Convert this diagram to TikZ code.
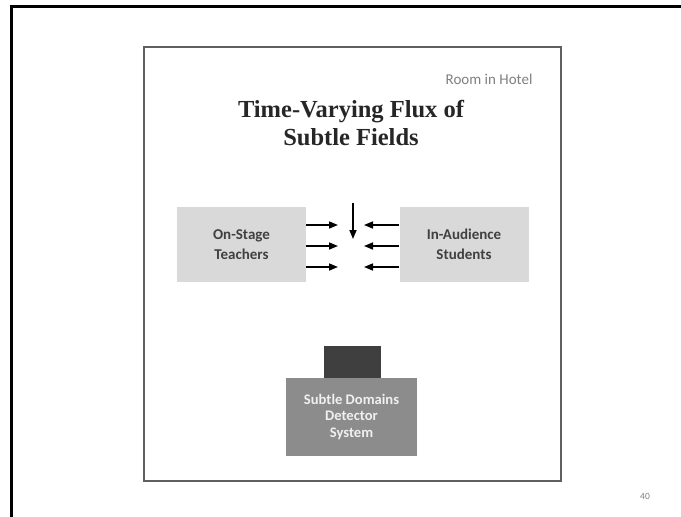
\documentclass[tikz,border=0pt]{standalone}
\usepackage{fontspec}
\setmainfont{Liberation Serif}
\newfontfamily\calib{Carlito}
\usetikzlibrary{arrows.meta}
\definecolor{boxgray}{HTML}{D9D9D9}
\definecolor{detgray}{HTML}{8C8C8C}
\definecolor{capgray}{HTML}{3F3F3F}
\definecolor{labelgray}{HTML}{404040}
\tikzset{
  px/.style={x=1pt,y=-1pt},
  panel/.style={draw=gray!75!black,line width=1.8pt,fill=white},
  graybox/.style={fill=boxgray,draw=none,minimum width=129pt,minimum height=75pt,
    font=\calib\bfseries\fontsize{15}{20}\selectfont,text=labelgray,align=center},
  flux/.style={line width=1.6pt,-{Triangle[length=9pt,width=7pt]}},
  detbox/.style={fill=detgray,draw=none,minimum width=131pt,minimum height=78pt,
    font=\calib\bfseries\fontsize{14.6}{16.5}\selectfont,text=white!94!black,align=center},
  capbox/.style={fill=capgray,draw=none,minimum width=57pt,minimum height=32pt},
}
\begin{document}
\begin{tikzpicture}[px]
\useasboundingbox (0,0) rectangle (681,517);
\fill[white] (0,0) rectangle (681,517);
% slide frame
\draw[line width=2.6pt] (11.5,517) -- (11.5,6.5) -- (681,6.5);
% room panel
\draw[panel] (144,47) rectangle (561,481);
\node[anchor=east,font=\calib\fontsize{15}{17}\selectfont,text=gray] (room) at (536,79) {Room in Hotel};
\node[font=\bfseries\fontsize{24.5}{27.5}\selectfont,align=center,text=black!85] (title) at (351,123)
  {Time-Varying Flux of\\Subtle Fields};
% sources
\node[graybox] (teach) at (241.5,244.5) {On-Stage\\Teachers};
\node[graybox] (stud) at (464,244.5) {In-Audience\\Students};
% flux arrows
\coordinate (r1) at (338,225);
\coordinate (r2) at (338,246);
\coordinate (r3) at (338,267);
\coordinate (l1) at (364,225);
\coordinate (l2) at (364,246);
\coordinate (l3) at (364,267);
\coordinate (dtop) at (353,203);
\coordinate (dbot) at (353,239);
\draw[flux] (teach.east |- r1) -- (r1);
\draw[flux] (teach.east |- r2) -- (r2);
\draw[flux] (teach.east |- r3) -- (r3);
\draw[flux] (stud.west |- l1) -- (l1);
\draw[flux] (stud.west |- l2) -- (l2);
\draw[flux] (stud.west |- l3) -- (l3);
\draw[flux] (dtop) -- (dbot);
% detector
\node[detbox] (det) at (351.5,417) {Subtle Domains\\Detector\\System};
\node[capbox,anchor=south] (cap) at (352.5,378) {};
% page number
\node[font=\calib\fontsize{9.5}{10}\selectfont,text=gray] (pg) at (645,496) {40};
\end{tikzpicture}
\end{document}
